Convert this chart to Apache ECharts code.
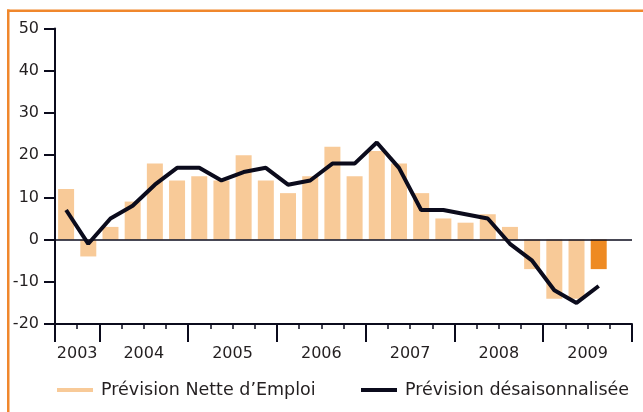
<!DOCTYPE html>
<html><head><meta charset="utf-8">
<script src="https://cdn.jsdelivr.net/npm/echarts@6/dist/echarts.min.js"></script>
<style>html,body{margin:0;padding:0;background:#fff}#c{width:643px;height:412px}</style>
</head><body><div id="c"></div>
<script>
const quarters = [
  '2003-T3','2003-T4',
  '2004-T1','2004-T2','2004-T3','2004-T4',
  '2005-T1','2005-T2','2005-T3','2005-T4',
  '2006-T1','2006-T2','2006-T3','2006-T4',
  '2007-T1','2007-T2','2007-T3','2007-T4',
  '2008-T1','2008-T2','2008-T3','2008-T4',
  '2009-T1','2009-T2','2009-T3','2009-T4'
];
const netForecast = [12,-4,3,9,18,14,15,14,20,14,11,15,22,15,21,18,11,5,4,6,3,-7,-14,-14,-7];
const adjustedForecast = [7,-1,5,8,13,17,17,14,16,17,13,14,18,18,23,17,7,7,6,5,-1,-5,-12,-15,-11];
const yearLabels = ['2003','2004','2005','2006','2007','2008','2009'];
const seriesNames = ['Prévision Nette d’Emploi','Prévision désaisonnalisée'];

const TEXT = '#231f20', INK = '#0b0b1c', LIGHT = '#F8CA98', DARK = '#EE8A22', FRAME = '#F0872C';
const FONT = 'DejaVu Sans';

const yearOf = q => q.slice(0, 4);
const boundaries = quarters.map((q, i) => String(i)).concat([String(quarters.length)]);
const labelAt = {};
const majorAt = new Set();
yearLabels.forEach(y => {
  const idx = quarters.map((q, i) => yearOf(q) === y ? i : -1).filter(i => i >= 0);
  const first = idx[0], last = idx[idx.length - 1];
  majorAt.add(first); majorAt.add(last + 1);
  labelAt[(first + last + 1) / 2] = y;
});

const barData = netForecast.map((v, i) => i === netForecast.length - 1 ? {value: v, itemStyle: {color: DARK}} : v);

const chart = echarts.init(document.getElementById('c'), null, {renderer: 'canvas'});
chart.setOption({
  animation: false,
  backgroundColor: '#fff',
  graphic: [
    {type: 'rect', shape: {x: 7, y: 9.5, width: 636, height: 2.5}, style: {fill: FRAME}, silent: true},
    {type: 'rect', shape: {x: 7, y: 9.5, width: 2.5, height: 403}, style: {fill: FRAME}, silent: true}
  ],
  grid: {left: 55, right: 11, top: 28.5, bottom: 88, containLabel: false},
  xAxis: [
    {
      type: 'category', data: quarters, boundaryGap: true, position: 'bottom',
      axisLine: {show: true, onZero: false, lineStyle: {color: INK, width: 2}},
      axisTick: {show: true, interval: 0, length: 5, lineStyle: {color: INK, width: 1.5}},
      axisLabel: {show: false}, splitLine: {show: false}
    },
    {
      type: 'category', data: boundaries, boundaryGap: false, position: 'bottom',
      axisLine: {show: false, onZero: false},
      axisTick: {show: true, length: 18, interval: (i) => majorAt.has(i), lineStyle: {color: INK, width: 2}},
      axisLabel: {show: true, interval: 0, margin: 22, formatter: (v, i) => labelAt[i] || '',
        fontFamily: FONT, fontSize: 16, color: TEXT},
      splitLine: {show: false}
    }
  ],
  yAxis: {
    type: 'value', min: -20, max: 50, interval: 10,
    axisLine: {show: true, lineStyle: {color: INK, width: 2}},
    axisTick: {show: true, length: 11, lineStyle: {color: INK, width: 2}},
    axisLabel: {margin: 16, fontFamily: FONT, fontSize: 16, color: TEXT},
    splitLine: {show: false}
  },
  legend: [
    {left: 52, top: 376, data: [{name: seriesNames[0], icon: 'rect'}], itemWidth: 36, itemHeight: 4,
      textStyle: {fontFamily: FONT, fontSize: 17.5, color: TEXT, padding: [0, 0, 0, 3]}},
    {left: 356, top: 376, data: [{name: seriesNames[1], icon: 'rect'}], itemWidth: 36, itemHeight: 4,
      textStyle: {fontFamily: FONT, fontSize: 17.5, color: TEXT, padding: [0, 0, 0, 3]}}
  ],
  series: [
    {
      name: seriesNames[0], type: 'bar', data: barData, barWidth: 16,
      itemStyle: {color: LIGHT},
      markLine: {silent: true, symbol: 'none', label: {show: false},
        lineStyle: {color: INK, width: 1.5, type: 'solid'}, data: [{yAxis: 0}]},
      z: 2
    },
    {
      name: seriesNames[1], type: 'line', data: adjustedForecast, showSymbol: false, symbol: 'none',
      lineStyle: {color: INK, width: 4}, itemStyle: {color: INK}, z: 3
    }
  ]
});
</script></body></html>
